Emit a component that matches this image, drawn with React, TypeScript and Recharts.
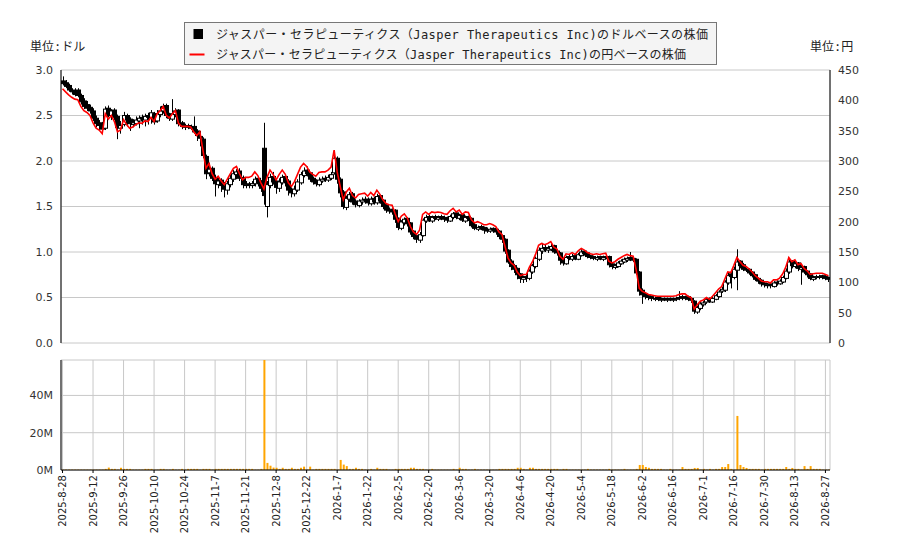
import { Bar, CartesianGrid, ComposedChart, Line, XAxis, YAxis } from "recharts";

// x-axis labels, one every 10 trading days
const tickLabels = [
  "2025-8-28", "2025-9-12", "2025-9-26", "2025-10-10", "2025-10-24", "2025-11-7",
  "2025-11-21", "2025-12-8", "2025-12-22", "2026-1-7", "2026-1-22", "2026-2-5",
  "2026-2-20", "2026-3-6", "2026-3-20", "2026-4-6", "2026-4-20", "2026-5-4",
  "2026-5-18", "2026-6-2", "2026-6-16", "2026-7-1", "2026-7-16", "2026-7-30",
  "2026-8-13", "2026-8-27",
];

// daily prices in USD
const opens = [
  2.88, 2.86, 2.83, 2.78, 2.77, 2.78, 2.72, 2.66, 2.62, 2.59,
  2.55, 2.47, 2.42, 2.40, 2.36, 2.58, 2.50, 2.56, 2.49, 2.36,
  2.40, 2.50, 2.46, 2.40, 2.41, 2.44, 2.48, 2.45, 2.50, 2.47,
  2.52, 2.44, 2.51, 2.55, 2.61, 2.51, 2.46, 2.51, 2.56, 2.42,
  2.37, 2.39, 2.36, 2.38, 2.33, 2.27, 2.24, 2.05, 1.87, 1.92,
  1.82, 1.74, 1.79, 1.74, 1.68, 1.74, 1.80, 1.85, 1.89, 1.82,
  1.73, 1.75, 1.73, 1.75, 1.81, 1.77, 2.14, 1.50, 1.73, 1.83,
  1.78, 1.70, 1.76, 1.83, 1.78, 1.69, 1.64, 1.68, 1.76, 1.84,
  1.90, 1.87, 1.81, 1.78, 1.74, 1.78, 1.81, 1.79, 1.81, 1.87,
  2.03, 1.80, 1.66, 1.49, 1.58, 1.64, 1.56, 1.51, 1.55, 1.58,
  1.58, 1.53, 1.59, 1.54, 1.62, 1.57, 1.51, 1.47, 1.44, 1.46,
  1.37, 1.26, 1.32, 1.37, 1.32, 1.23, 1.18, 1.13, 1.18, 1.34,
  1.39, 1.34, 1.39, 1.36, 1.39, 1.38, 1.37, 1.34, 1.38, 1.43,
  1.37, 1.41, 1.34, 1.39, 1.37, 1.30, 1.25, 1.28, 1.27, 1.23,
  1.23, 1.26, 1.25, 1.23, 1.18, 1.14, 1.02, 0.90, 0.85, 0.82,
  0.76, 0.70, 0.73, 0.71, 0.78, 0.84, 0.92, 1.01, 1.05, 1.02,
  1.03, 1.07, 1.01, 0.99, 0.92, 0.87, 0.95, 0.92, 0.96, 0.92,
  0.96, 1.01, 0.99, 0.96, 0.95, 0.92, 0.95, 0.92, 0.95, 0.95,
  0.87, 0.83, 0.84, 0.87, 0.89, 0.91, 0.94, 0.93, 0.92, 0.78,
  0.58, 0.54, 0.52, 0.51, 0.48, 0.50, 0.47, 0.49, 0.47, 0.49,
  0.47, 0.48, 0.49, 0.51, 0.49, 0.51, 0.49, 0.46, 0.34, 0.38,
  0.42, 0.45, 0.49, 0.45, 0.48, 0.51, 0.57, 0.58, 0.66, 0.76,
  0.72, 0.80, 0.90, 0.86, 0.81, 0.81, 0.78, 0.75, 0.71, 0.69,
  0.66, 0.63, 0.65, 0.62, 0.67, 0.65, 0.67, 0.71, 0.78, 0.90,
  0.84, 0.88, 0.81, 0.84, 0.79, 0.76, 0.70, 0.73, 0.72, 0.74,
  0.73, 0.72,
];

const highs = [
  2.93, 2.89, 2.85, 2.80, 2.80, 2.80, 2.74, 2.69, 2.66, 2.62,
  2.58, 2.50, 2.45, 2.43, 2.60, 2.61, 2.57, 2.58, 2.51, 2.44,
  2.54, 2.52, 2.48, 2.46, 2.49, 2.50, 2.51, 2.52, 2.53, 2.56,
  2.54, 2.56, 2.60, 2.63, 2.63, 2.53, 2.68, 2.58, 2.57, 2.44,
  2.41, 2.41, 2.40, 2.49, 2.35, 2.33, 2.26, 2.07, 1.98, 1.94,
  1.85, 1.82, 1.81, 1.77, 1.78, 1.85, 1.90, 1.91, 1.92, 1.84,
  1.78, 1.77, 1.78, 1.83, 1.83, 1.79, 2.42, 1.78, 1.86, 1.88,
  1.80, 1.81, 1.85, 1.85, 1.80, 1.71, 1.73, 1.80, 1.88, 1.93,
  1.94, 1.88, 1.83, 1.80, 1.82, 1.83, 1.84, 1.85, 1.88, 2.08,
  2.05, 1.82, 1.68, 1.62, 1.66, 1.66, 1.58, 1.58, 1.60, 1.61,
  1.60, 1.61, 1.61, 1.64, 1.63, 1.58, 1.53, 1.49, 1.48, 1.47,
  1.38, 1.35, 1.38, 1.38, 1.33, 1.24, 1.20, 1.22, 1.37, 1.41,
  1.41, 1.40, 1.41, 1.40, 1.41, 1.40, 1.39, 1.41, 1.44, 1.44,
  1.42, 1.42, 1.40, 1.40, 1.38, 1.32, 1.29, 1.30, 1.28, 1.27,
  1.27, 1.27, 1.26, 1.24, 1.19, 1.15, 1.03, 0.92, 0.87, 0.83,
  0.77, 0.74, 0.75, 0.81, 0.87, 0.95, 1.05, 1.10, 1.08, 1.07,
  1.09, 1.08, 1.03, 1.00, 0.94, 0.96, 0.97, 0.98, 0.98, 0.99,
  1.03, 1.02, 1.00, 0.97, 0.96, 0.96, 0.96, 0.96, 0.98, 0.96,
  0.89, 0.87, 0.90, 0.92, 0.94, 0.95, 1.00, 0.95, 0.93, 0.79,
  0.60, 0.56, 0.53, 0.52, 0.51, 0.51, 0.50, 0.50, 0.50, 0.50,
  0.50, 0.51, 0.57, 0.53, 0.52, 0.52, 0.50, 0.47, 0.41, 0.45,
  0.46, 0.50, 0.50, 0.51, 0.54, 0.58, 0.62, 0.69, 0.77, 0.78,
  0.84, 1.03, 0.91, 0.88, 0.83, 0.82, 0.79, 0.76, 0.72, 0.70,
  0.68, 0.66, 0.66, 0.68, 0.69, 0.70, 0.74, 0.82, 0.93, 0.91,
  0.90, 0.89, 0.86, 0.85, 0.80, 0.77, 0.74, 0.75, 0.75, 0.75,
  0.75, 0.73,
];

const lows = [
  2.83, 2.80, 2.76, 2.73, 2.71, 2.70, 2.62, 2.57, 2.55, 2.52,
  2.44, 2.37, 2.34, 2.31, 2.34, 2.48, 2.45, 2.45, 2.24, 2.30,
  2.38, 2.38, 2.33, 2.37, 2.39, 2.36, 2.40, 2.38, 2.40, 2.41,
  2.40, 2.42, 2.48, 2.52, 2.47, 2.44, 2.44, 2.48, 2.38, 2.35,
  2.34, 2.35, 2.34, 2.30, 2.22, 2.16, 2.03, 1.80, 1.83, 1.78,
  1.61, 1.70, 1.66, 1.60, 1.63, 1.71, 1.77, 1.80, 1.78, 1.70,
  1.70, 1.70, 1.70, 1.72, 1.72, 1.66, 1.52, 1.38, 1.70, 1.74,
  1.64, 1.66, 1.74, 1.72, 1.62, 1.60, 1.61, 1.66, 1.74, 1.82,
  1.83, 1.77, 1.74, 1.72, 1.72, 1.76, 1.77, 1.77, 1.79, 1.85,
  1.75, 1.60, 1.47, 1.46, 1.55, 1.52, 1.49, 1.49, 1.52, 1.53,
  1.51, 1.51, 1.52, 1.52, 1.53, 1.47, 1.43, 1.42, 1.41, 1.32,
  1.24, 1.24, 1.29, 1.28, 1.19, 1.14, 1.10, 1.10, 1.17, 1.32,
  1.33, 1.32, 1.35, 1.34, 1.35, 1.33, 1.32, 1.33, 1.36, 1.36,
  1.35, 1.33, 1.32, 1.34, 1.27, 1.24, 1.23, 1.24, 1.20, 1.21,
  1.21, 1.21, 1.19, 1.14, 1.10, 0.98, 0.87, 0.80, 0.77, 0.70,
  0.66, 0.66, 0.67, 0.69, 0.76, 0.82, 0.90, 0.98, 1.00, 0.99,
  1.01, 0.98, 0.96, 0.86, 0.85, 0.86, 0.91, 0.90, 0.91, 0.91,
  0.95, 0.96, 0.93, 0.92, 0.91, 0.90, 0.91, 0.90, 0.92, 0.83,
  0.81, 0.81, 0.83, 0.86, 0.88, 0.89, 0.90, 0.89, 0.75, 0.52,
  0.43, 0.48, 0.47, 0.46, 0.46, 0.46, 0.45, 0.46, 0.45, 0.46,
  0.45, 0.46, 0.47, 0.47, 0.47, 0.46, 0.44, 0.32, 0.32, 0.36,
  0.40, 0.43, 0.44, 0.44, 0.47, 0.50, 0.55, 0.56, 0.64, 0.60,
  0.70, 0.58, 0.82, 0.79, 0.78, 0.75, 0.72, 0.68, 0.65, 0.62,
  0.61, 0.60, 0.60, 0.61, 0.63, 0.64, 0.66, 0.70, 0.76, 0.82,
  0.82, 0.79, 0.64, 0.76, 0.72, 0.69, 0.68, 0.70, 0.70, 0.70,
  0.69, 0.67,
];

const closes = [
  2.85, 2.82, 2.78, 2.76, 2.73, 2.72, 2.65, 2.60, 2.58, 2.55,
  2.47, 2.41, 2.39, 2.35, 2.57, 2.51, 2.55, 2.48, 2.37, 2.39,
  2.50, 2.45, 2.41, 2.42, 2.45, 2.47, 2.46, 2.49, 2.48, 2.53,
  2.43, 2.52, 2.55, 2.60, 2.50, 2.47, 2.52, 2.55, 2.41, 2.38,
  2.38, 2.38, 2.37, 2.32, 2.28, 2.25, 2.06, 1.86, 1.91, 1.81,
  1.75, 1.78, 1.73, 1.69, 1.75, 1.81, 1.86, 1.88, 1.81, 1.74,
  1.74, 1.74, 1.75, 1.80, 1.76, 1.70, 1.62, 1.74, 1.82, 1.77,
  1.71, 1.77, 1.82, 1.77, 1.68, 1.65, 1.69, 1.77, 1.85, 1.89,
  1.86, 1.80, 1.77, 1.75, 1.79, 1.80, 1.80, 1.82, 1.85, 2.03,
  1.80, 1.65, 1.50, 1.59, 1.63, 1.55, 1.52, 1.56, 1.57, 1.57,
  1.54, 1.58, 1.55, 1.61, 1.56, 1.50, 1.46, 1.45, 1.45, 1.36,
  1.27, 1.33, 1.36, 1.31, 1.22, 1.17, 1.14, 1.19, 1.35, 1.38,
  1.35, 1.38, 1.37, 1.38, 1.37, 1.36, 1.35, 1.39, 1.42, 1.38,
  1.40, 1.35, 1.38, 1.37, 1.29, 1.26, 1.27, 1.26, 1.24, 1.24,
  1.25, 1.24, 1.22, 1.17, 1.14, 1.01, 0.89, 0.84, 0.81, 0.75,
  0.71, 0.72, 0.72, 0.79, 0.85, 0.93, 1.02, 1.04, 1.03, 1.04,
  1.06, 1.00, 0.99, 0.91, 0.88, 0.94, 0.93, 0.95, 0.93, 0.97,
  1.00, 0.98, 0.95, 0.94, 0.93, 0.94, 0.93, 0.94, 0.94, 0.86,
  0.84, 0.85, 0.88, 0.90, 0.92, 0.93, 0.92, 0.91, 0.77, 0.57,
  0.53, 0.51, 0.50, 0.49, 0.49, 0.48, 0.48, 0.48, 0.48, 0.48,
  0.48, 0.49, 0.50, 0.50, 0.50, 0.48, 0.47, 0.35, 0.39, 0.43,
  0.44, 0.48, 0.46, 0.49, 0.52, 0.56, 0.59, 0.67, 0.74, 0.73,
  0.81, 0.89, 0.85, 0.81, 0.80, 0.77, 0.74, 0.70, 0.68, 0.65,
  0.64, 0.64, 0.63, 0.66, 0.66, 0.68, 0.72, 0.79, 0.89, 0.85,
  0.87, 0.82, 0.83, 0.78, 0.75, 0.71, 0.72, 0.73, 0.73, 0.73,
  0.71, 0.70,
];

// daily close in JPY
const jpyCloses = [
  419, 414, 409, 405, 402, 401, 390, 383, 380, 375,
  363, 354, 351, 345, 378, 369, 375, 365, 348, 351,
  368, 360, 354, 356, 360, 363, 362, 366, 365, 372,
  365, 378, 383, 390, 375, 371, 378, 383, 362, 357,
  357, 357, 356, 348, 342, 348, 318, 288, 296, 279,
  270, 275, 267, 261, 270, 279, 288, 291, 279, 269,
  273, 273, 275, 282, 276, 264, 254, 273, 285, 278,
  269, 278, 285, 278, 264, 258, 266, 278, 290, 296,
  291, 282, 278, 275, 281, 282, 282, 285, 290, 318,
  282, 258, 236, 249, 255, 243, 239, 245, 246, 247,
  242, 248, 243, 252, 245, 236, 230, 228, 227, 213,
  200, 209, 213, 206, 192, 183, 179, 186, 212, 216,
  212, 216, 215, 216, 215, 213, 212, 218, 222, 216,
  219, 212, 216, 215, 203, 198, 200, 198, 195, 195,
  197, 195, 192, 183, 179, 159, 140, 132, 128, 117,
  111, 113, 113, 125, 134, 146, 161, 164, 162, 164,
  167, 158, 155, 143, 138, 147, 146, 149, 146, 152,
  156, 153, 149, 147, 146, 147, 146, 147, 148, 135,
  132, 134, 138, 141, 144, 146, 144, 143, 120, 90,
  85, 83, 80, 79, 78, 77, 77, 77, 77, 77,
  77, 78, 80, 81, 81, 77, 75, 56, 63, 69,
  71, 75, 72, 77, 83, 89, 93, 105, 117, 116,
  128, 141, 134, 128, 126, 122, 117, 111, 107, 102,
  101, 101, 99, 104, 104, 107, 114, 125, 141, 134,
  137, 129, 131, 123, 119, 113, 114, 115, 115, 115,
  113, 111,
];

// daily volume, millions of shares
const volumes = [
  0.2, 0.2, 0.2, 0.2, 0.2, 0.2, 0.2, 0.2, 0.2, 0.2,
  0.2, 0.2, 0.2, 0.2, 0.6, 1.3, 0.6, 0.6, 0.2, 1.2,
  0.6, 0.6, 0.6, 0.2, 0.2, 0.2, 0.2, 0.6, 0.6, 0.6,
  0.2, 0.2, 0.6, 0.6, 0.2, 0.2, 0.6, 0.2, 0.2, 0.6,
  0.2, 0.6, 0.6, 0.6, 0.6, 0.2, 0.6, 0.6, 0.6, 0.2,
  0.6, 0.6, 0.6, 0.6, 0.6, 0.6, 0.6, 0.6, 0.6, 0.6,
  0.6, 0.6, 0.6, 0.2, 0.2, 0.6, 59, 3.8, 2.3, 1.3,
  1.2, 0.6, 1.2, 0.6, 0.6, 1.2, 0.6, 0.6, 1.2, 1.8,
  0.2, 1.8, 0.2, 0.6, 0.6, 0.6, 0.6, 0.6, 0.6, 0.6,
  0.2, 5.4, 2.9, 2.1, 0.6, 0.6, 1.2, 0.6, 0.6, 0.2,
  0.2, 0.6, 0.2, 1.2, 0.6, 0.6, 0.6, 0.2, 0.2, 0.6,
  0.6, 0.6, 0.6, 0.6, 1.2, 1.2, 0.6, 0.6, 0.6, 0.2,
  0.2, 0.6, 0.2, 0.2, 0.2, 0.2, 0.2, 0.2, 0.6, 0.2,
  1.2, 0.6, 0.6, 0.2, 0.2, 0.6, 0.2, 0.2, 0.2, 0.2,
  0.2, 0.2, 0.2, 0.6, 0.6, 0.6, 0.6, 0.6, 0.6, 1.2,
  1.2, 0.6, 0.2, 1.2, 1.2, 0.6, 0.6, 0.6, 0.6, 0.6,
  0.6, 0.6, 0.6, 0.2, 0.6, 0.6, 0.2, 0.2, 0.2, 0.2,
  0.2, 0.2, 0.6, 0.2, 0.2, 0.2, 0.2, 0.2, 0.2, 0.6,
  0.2, 0.2, 0.2, 0.2, 0.6, 0.2, 0.2, 0.2, 0.6, 2.7,
  2.7, 1.6, 1.2, 0.6, 0.6, 0.6, 0.6, 0.2, 0.2, 0.6,
  0.2, 0.2, 0.2, 1.6, 0.6, 0.6, 0.6, 1.1, 1.1, 0.2,
  0.6, 0.2, 0.6, 0.2, 0.6, 0.6, 1.6, 1.6, 3.2, 0.6,
  0.2, 29, 2.7, 1.6, 1.1, 0.6, 0.6, 0.6, 0.6, 0.2,
  0.6, 0.6, 0.6, 0.6, 0.6, 0.6, 0.6, 1.6, 0.6, 1.1,
  0.6, 0.6, 0.2, 2.1, 0.6, 2.1, 0.6, 0.6, 0.6, 0.2,
  0.2, 0.2,
];

const usdTicks = [0, 0.5, 1, 1.5, 2, 2.5, 3];
const jpyTicks = [0, 50, 100, 150, 200, 250, 300, 350, 400, 450];
const volTicks = [0, 20, 40];

const data = closes.map((close, i) => ({
  i,
  open: opens[i],
  high: highs[i],
  low: lows[i],
  close,
  jpy: jpyCloses[i],
  vol: volumes[i],
}));

const xTicks = tickLabels.map((_, k) => k * 10);
const usdMinor = Array.from({ length: 31 }, (_, k) => k / 10);
const jpyMinor = Array.from({ length: 46 }, (_, k) => k * 10);
const volMinor = [10, 20, 30, 40, 50];

const GRID = "#c8c8c8";
const AXIS = { stroke: "#000" };
const LABEL = { fontSize: 11, fill: "#333", fontFamily: "DejaVu Sans" };
const CJK = "'DejaVu Sans Mono', 'Noto Sans CJK JP', sans-serif";

const LEGEND_USD = "ジャスパー・セラピューティクス（Jasper Therapeutics Inc)のドルベースの株価";
const LEGEND_JPY = "ジャスパー・セラピューティクス（Jasper Therapeutics Inc)の円ベースの株価";

function Candle(props: any) {
  const { x, y, width, height, payload } = props;
  const { open, close, high, low } = payload;
  const cx = Math.round(x + width / 2) + 0.5;
  const span = high - low;
  const toY = (v: number) => (span === 0 ? y : y + ((high - v) / span) * height);
  const top = toY(Math.max(open, close));
  const bottom = toY(Math.min(open, close));
  const up = close >= open;
  return (
    <g>
      <line x1={cx} x2={cx} y1={y} y2={y + height} stroke="#000" strokeWidth={1} />
      <rect
        x={cx - 2}
        y={top}
        width={4}
        height={Math.max(bottom - top, 0.8)}
        fill={up ? "#fff" : "#000"}
        stroke="#000"
        strokeWidth={1}
      />
    </g>
  );
}

function DateTick({ x, y, payload }: any) {
  return (
    <text
      x={x}
      y={y}
      transform={`rotate(-90 ${x} ${y})`}
      textAnchor="end"
      dominantBaseline="central"
      fontSize={10}
      fontFamily="DejaVu Sans"
      fill="#222"
    >
      {tickLabels[Math.round(payload.value / 10)]}
    </text>
  );
}

export default function App() {
  return (
    <div
      style={{
        position: "absolute",
        left: 0,
        top: 0,
        width: 900,
        height: 550,
        background: "#fff",
        fontFamily: "DejaVu Sans",
      }}
    >
      <div style={{ position: "absolute", left: 0, top: 0 }}>
        <ComposedChart width={900} height={350} data={data} margin={{ top: 70, right: 0, bottom: 7, left: 0 }}>
          <CartesianGrid yAxisId="usd" stroke={GRID} />
          <XAxis
            type="number"
            dataKey="i"
            domain={[-0.5, 251.5]}
            ticks={xTicks}
            interval={0}
            mirror
            height={0}
            tick={false}
            tickSize={4}
            axisLine={AXIS}
            tickLine={AXIS}
            allowDataOverflow
          />
          <YAxis
            yAxisId="usd"
            domain={[0, 3]}
            ticks={usdTicks}
            interval={0}
            width={61}
            tickFormatter={(v: number) => v.toFixed(1)}
            tick={LABEL}
            tickLine={false}
            axisLine={AXIS}
          />
          <YAxis yAxisId="usdMinor" domain={[0, 3]} ticks={usdMinor} interval={0} mirror tick={false} tickSize={3} axisLine={false} tickLine={AXIS} />
          <YAxis yAxisId="usdMajor" domain={[0, 3]} ticks={usdTicks} interval={0} mirror tick={false} tickSize={6} axisLine={false} tickLine={AXIS} />
          <YAxis
            yAxisId="jpy"
            orientation="right"
            domain={[0, 450]}
            ticks={jpyTicks}
            interval={0}
            width={70}
            tick={LABEL}
            tickLine={false}
            axisLine={AXIS}
          />
          <YAxis yAxisId="jpyMinor" orientation="right" domain={[0, 450]} ticks={jpyMinor} interval={0} mirror tick={false} tickSize={3} axisLine={false} tickLine={AXIS} />
          <YAxis yAxisId="jpyMajor" orientation="right" domain={[0, 450]} ticks={jpyTicks} interval={0} mirror tick={false} tickSize={6} axisLine={false} tickLine={AXIS} />
          <Bar
            yAxisId="usd"
            dataKey={(d: any) => [d.low, d.high]}
            barSize={3}
            shape={Candle}
            isAnimationActive={false}
          />
          <Line
            yAxisId="jpy"
            type="linear"
            dataKey="jpy"
            stroke="#ff0000"
            strokeWidth={1.6}
            dot={false}
            isAnimationActive={false}
          />
        </ComposedChart>
      </div>

      <div style={{ position: "absolute", left: 0, top: 350 }}>
        <ComposedChart width={900} height={200} data={data} margin={{ top: 10, right: 70, bottom: 0, left: 0 }}>
          <CartesianGrid yAxisId="vol" stroke={GRID} />
          <XAxis
            type="number"
            dataKey="i"
            domain={[-0.5, 251.5]}
            ticks={xTicks}
            interval={0}
            height={80}
            tickSize={3}
            tickMargin={2}
            tick={<DateTick />}
            axisLine={AXIS}
            tickLine={AXIS}
            allowDataOverflow
          />
          <YAxis
            yAxisId="vol"
            domain={[0, 59]}
            ticks={volTicks}
            interval={0}
            width={61}
            tickFormatter={(v: number) => `${v}M`}
            tick={LABEL}
            tickLine={false}
            axisLine={AXIS}
            allowDataOverflow
          />
          <YAxis yAxisId="volMinor" domain={[0, 59]} ticks={volMinor} interval={0} mirror tick={false} tickSize={3} axisLine={false} tickLine={AXIS} allowDataOverflow />
          <Bar yAxisId="vol" dataKey="vol" fill="#ffa500" barSize={2} isAnimationActive={false} />
        </ComposedChart>
      </div>

      <svg width={900} height={70} style={{ position: "absolute", left: 0, top: 0 }}>
        <text x={30} y={51} fontSize={12} fontFamily={CJK} fill="#222">単位:ドル</text>
        <text x={810} y={51} fontSize={12} fontFamily={CJK} fill="#222">単位:円</text>
        <g transform="translate(184.5 22.5)">
          <rect x={0} y={0} width={532} height={42} fill="#f4f4f4" stroke="#777" strokeWidth={1} />
          <rect x={9} y={6.5} width={9.5} height={10} fill="#000" />
          <line x1={5} x2={20} y1={32} y2={32} stroke="#ff0000" strokeWidth={2} />
          <text x={31.5} y={16} fontSize={12} fontFamily={CJK} fill="#222" textLength={492} lengthAdjust="spacing">
            {LEGEND_USD}
          </text>
          <text x={31.5} y={36.5} fontSize={12} fontFamily={CJK} fill="#222" textLength={470} lengthAdjust="spacing">
            {LEGEND_JPY}
          </text>
        </g>
      </svg>
    </div>
  );
}
